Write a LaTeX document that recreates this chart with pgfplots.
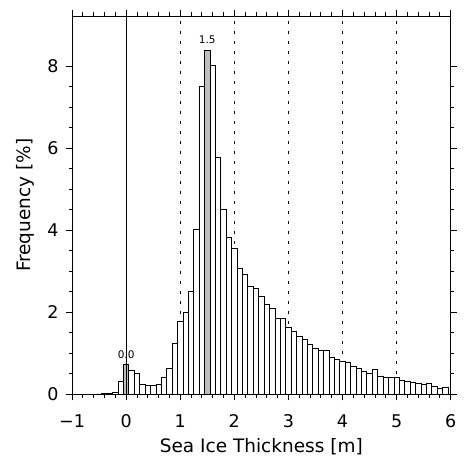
\documentclass[border=0pt]{standalone}
\usepackage{fontspec}
\setmainfont{DejaVu Sans}
\usepackage{pgfplots}
\usepackage{pgfplotstable}
\pgfplotsset{compat=1.18}
\usetikzlibrary{calc}
\definecolor{bargray}{HTML}{BEBEBE}

% histogram, bins 0.1 m wide (centres)
\pgfplotstableread{
x y
-0.6 0.01
-0.5 0.01
-0.4 0.02
-0.3 0.03
-0.2 0.05
-0.1 0.32
0.1 0.58
0.2 0.51
0.3 0.24
0.4 0.22
0.5 0.22
0.6 0.24
0.7 0.41
0.8 0.63
0.9 1.23
1.0 1.79
1.1 2.00
1.2 2.52
1.3 4.01
1.4 7.50
1.6 8.01
1.7 5.77
1.8 4.51
1.9 3.83
2.0 3.56
2.1 3.06
2.2 2.93
2.3 2.64
2.4 2.59
2.5 2.39
2.6 2.20
2.7 2.10
2.8 1.84
2.9 1.84
3.0 1.62
3.1 1.53
3.2 1.42
3.3 1.34
3.4 1.22
3.5 1.12
3.6 1.07
3.7 1.07
3.8 0.90
3.9 0.85
4.0 0.80
4.1 0.78
4.2 0.68
4.3 0.63
4.4 0.56
4.5 0.50
4.6 0.61
4.7 0.44
4.8 0.41
4.9 0.41
5.0 0.41
5.1 0.35
5.2 0.32
5.3 0.28
5.4 0.27
5.5 0.25
5.6 0.27
5.7 0.19
5.8 0.14
5.9 0.16
}\histdata

\begin{document}
\begin{tikzpicture}
\begin{axis}[scale only axis,width=378.7pt,height=378.3pt,
  xmin=-1,xmax=6,ymin=0,ymax=9.22,
  xtick={-1,0,1,2,3,4,5,6},xticklabels={−1,0,1,2,3,4,5,6},
  minor x tick num=4,
  ytick={0,2,4,6,8},minor y tick num=3,
  tick align=outside,
  major tick length=6pt,minor tick length=3.5pt,
  every tick/.style={black,line width=0.8pt},
  axis line style={line width=0.8pt},
  /pgf/number format/assume math mode=true,
  ticklabel style={font=\fontsize{17.5}{20}\selectfont},
  xticklabel style={yshift=-11pt},
  yticklabel style={xshift=-4pt},
  ]
  \addplot[black,line width=0.8pt,dash pattern=on 3pt off 7pt,forget plot]
    coordinates{(1,0)(1,9.22)};
  \addplot[black,line width=0.8pt,dash pattern=on 3pt off 7pt,forget plot]
    coordinates{(2,0)(2,9.22)};
  \addplot[black,line width=0.8pt,dash pattern=on 3pt off 7pt,forget plot]
    coordinates{(3,0)(3,9.22)};
  \addplot[black,line width=0.8pt,dash pattern=on 3pt off 7pt,forget plot]
    coordinates{(4,0)(4,9.22)};
  \addplot[black,line width=0.8pt,dash pattern=on 3pt off 7pt,forget plot]
    coordinates{(5,0)(5,9.22)};
  \addplot[ybar,bar width=0.1,fill=white,draw=black,line width=0.7pt]
    table[x=x,y=y]{\histdata};
  \addplot[ybar,bar width=0.1,fill=bargray,draw=black,line width=0.7pt]
    coordinates{(0,0.72)(1.5,8.38)};
  \addplot[black,line width=0.8pt,forget plot] coordinates{(0,0)(0,9.22)};
  \node[anchor=south,font=\fontsize{10.5}{12}\selectfont,yshift=3pt]
    at (axis cs:0,0.72) {0.0};
  \node[anchor=south,font=\fontsize{10.5}{12}\selectfont,yshift=3pt]
    at (axis cs:1.5,8.38) {1.5};
\end{axis}
\node[font=\fontsize{18.5}{22}\selectfont] at ($(current axis.south)+(0,-52.2pt)$)
  {Sea Ice Thickness [m]};
\node[rotate=90,font=\fontsize{18.5}{22}\selectfont] at ($(current axis.west)+(-47pt,0)$)
  {Frequency [\%]};
\pgfresetboundingbox
\path ($(current axis.south west)+(-72pt,-64.7pt)$) rectangle
  ($(current axis.north east)+(21.3pt,16pt)$);
\end{tikzpicture}
\end{document}
